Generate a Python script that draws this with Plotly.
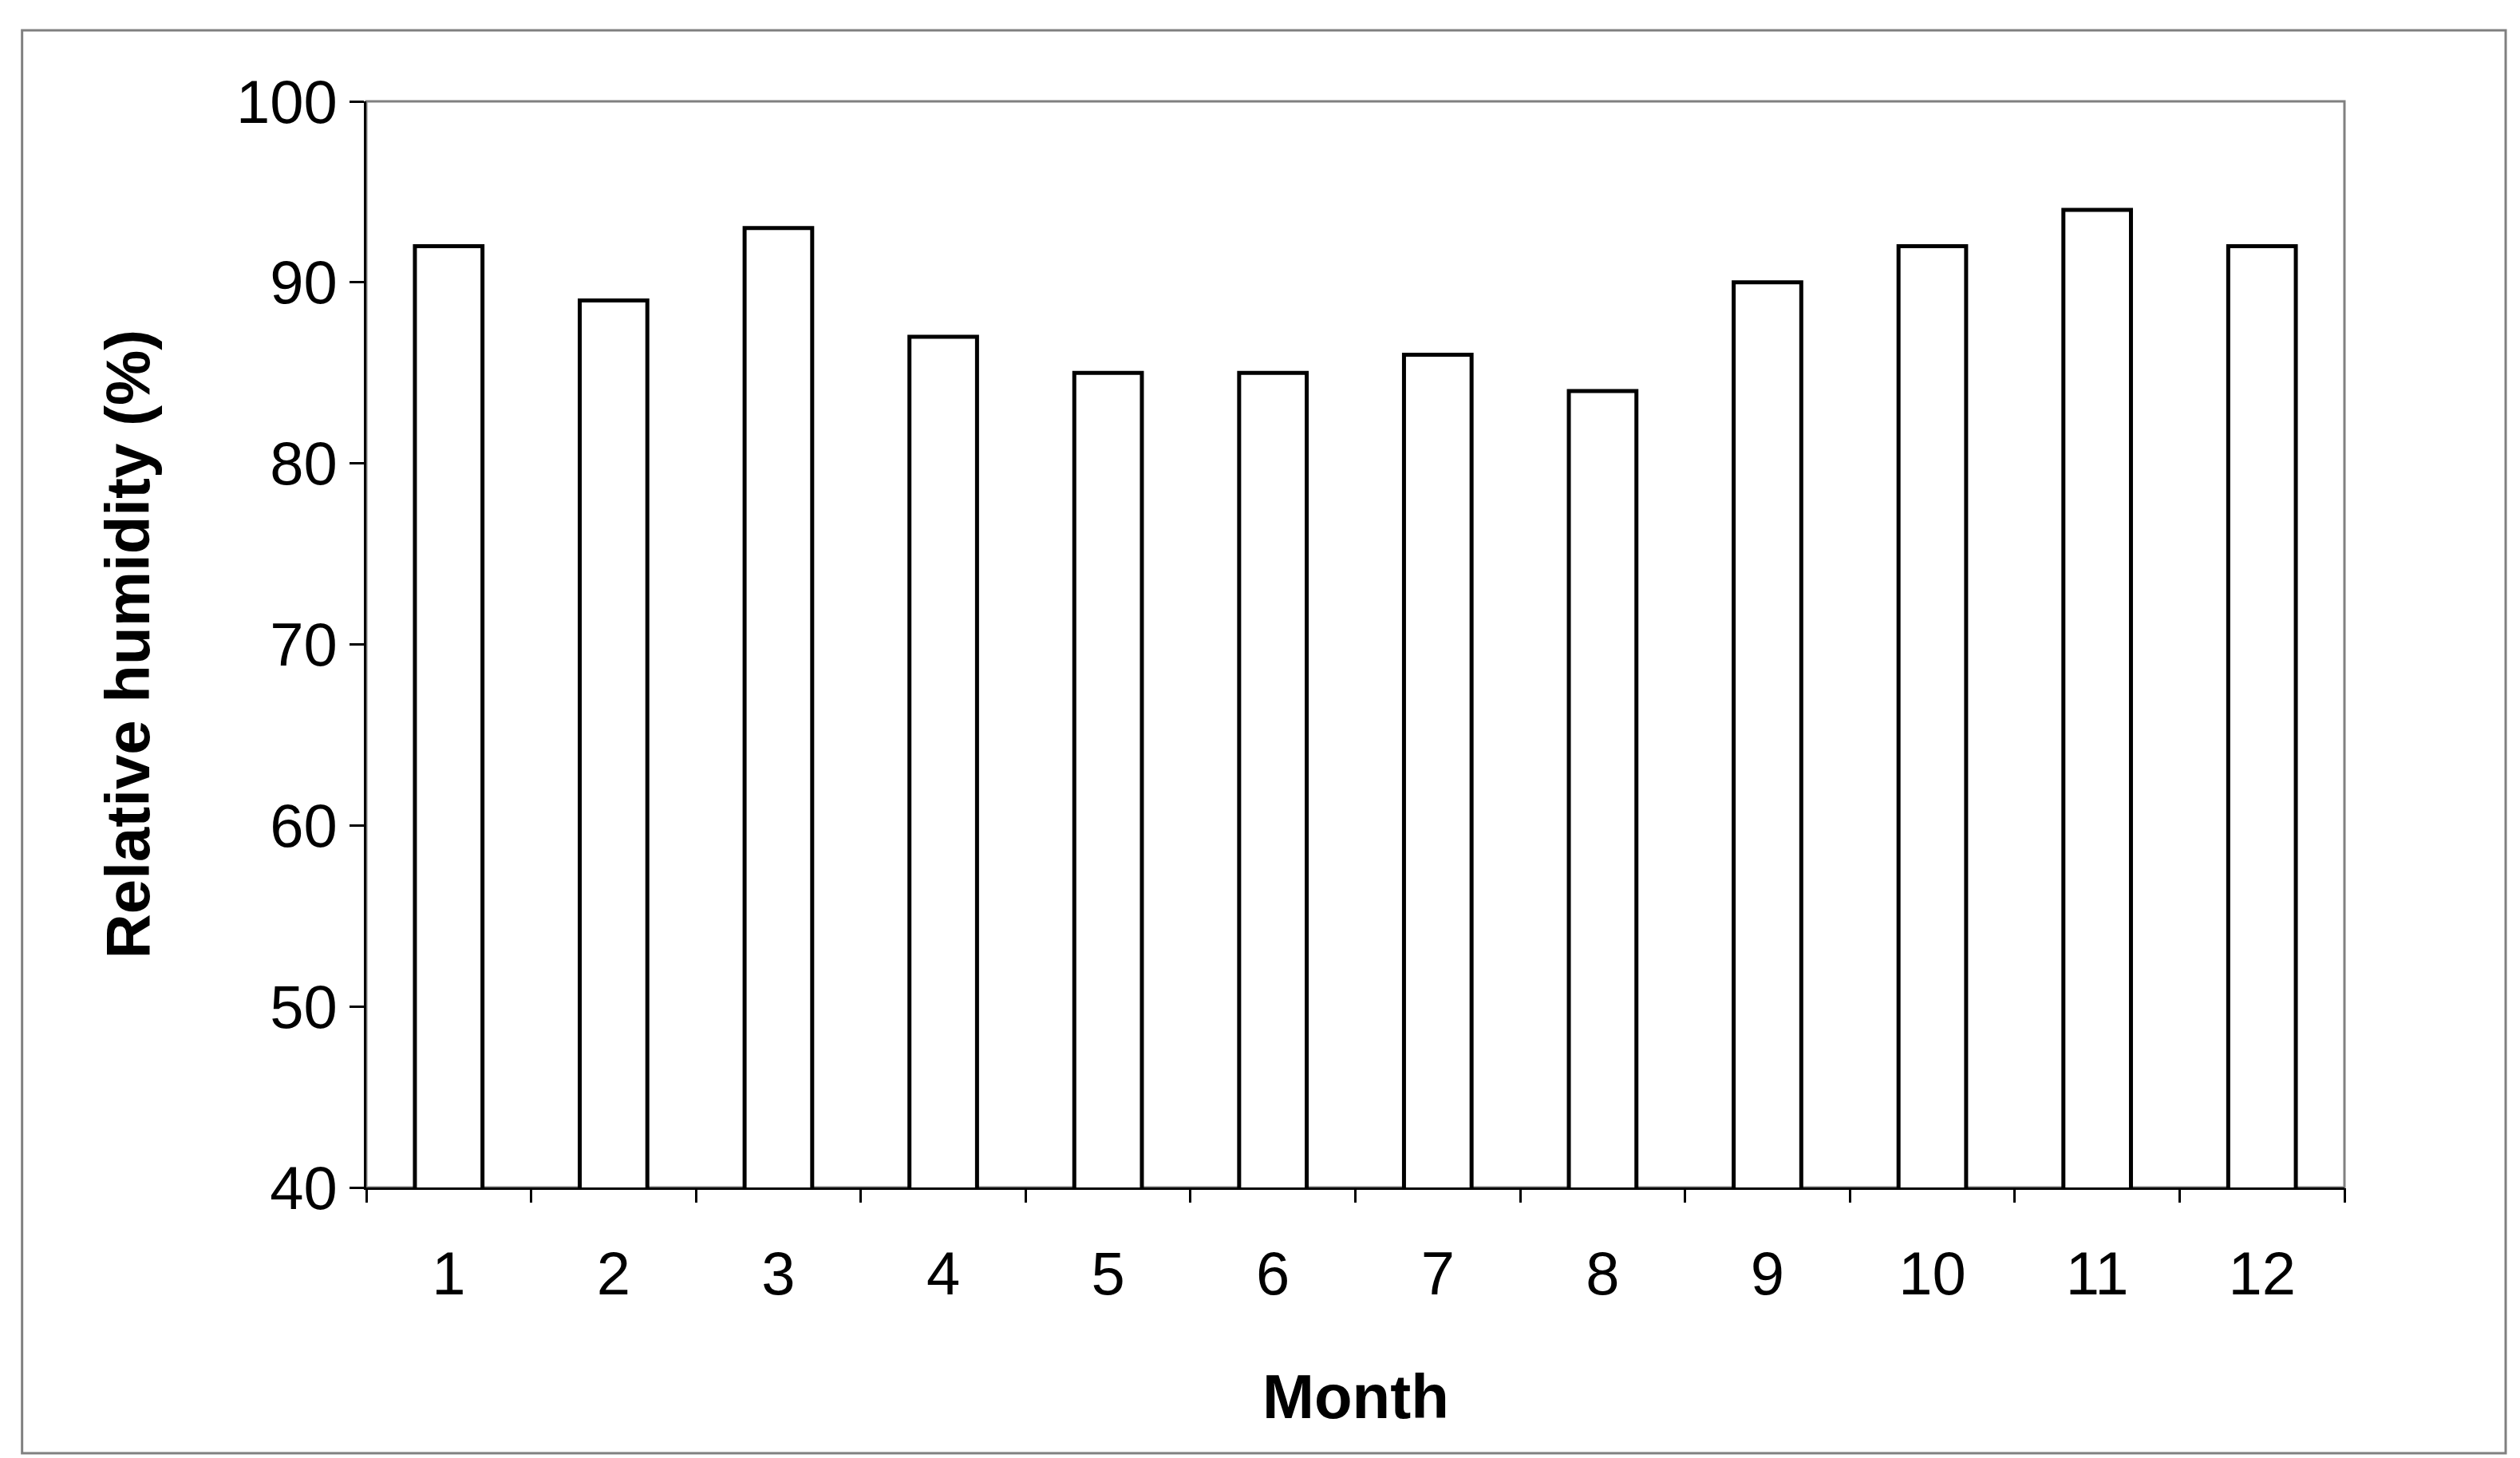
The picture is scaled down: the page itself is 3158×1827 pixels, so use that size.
import plotly.graph_objects as go

months = [1, 2, 3, 4, 5, 6, 7, 8, 9, 10, 11, 12]
humidity = [92, 89, 93, 87, 85, 85, 86, 84, 90, 92, 94, 92]
y_ticks = [40, 50, 60, 70, 80, 90, 100]

fig = go.Figure()
fig.add_trace(go.Bar(x=months, y=humidity, width=0.41, marker=dict(color="white", line=dict(color="black", width=5))))

fig.update_layout(
    width=3158, height=1827, paper_bgcolor="white", plot_bgcolor="white",
    margin=dict(l=451, r=228, t=119, b=347), showlegend=False,
    font=dict(family="Liberation Sans, Arial", color="black"),
    xaxis=dict(range=[0.5, 12.5], tickvals=months, ticktext=[str(m) for m in months], ticks="",
               tickfont=dict(size=76), showgrid=False, showline=True, linecolor="black", linewidth=3,
               ticklabelstandoff=40),
    xaxis2=dict(range=[0.5, 12.5], overlaying="x", tickvals=[i + 0.5 for i in range(13)], ticks="outside",
                ticklen=18, tickwidth=3, tickcolor="black", showticklabels=False, showgrid=False, side="bottom"),
    yaxis=dict(range=[40, 100], tickvals=y_ticks, ticks="outside", ticklen=18, tickwidth=3, tickcolor="black",
               tickfont=dict(size=76), showgrid=False, showline=True, linecolor="black", linewidth=3),
)
fig.add_trace(go.Scatter(x=[None], y=[None], xaxis="x2", showlegend=False))
fig.add_shape(type="rect", xref="paper", yref="paper", x0=0, x1=1, y0=0, y1=1, line=dict(color="#808080", width=3), layer="below")
fig.add_shape(type="rect", xref="paper", yref="paper", x0=-0.174, x1=1.0815, y0=-0.2447, y1=1.0654, line=dict(color="#808080", width=3))
fig.add_annotation(text="<b>Month</b>", xref="paper", yref="paper", x=0.5, y=(1480 - 1742) / 1361, showarrow=False, font=dict(size=78), yanchor="middle")
fig.add_annotation(text="<b>Relative humidity (%)</b>", xref="paper", yref="paper", x=(151 - 451) / 2479, y=0.5, textangle=-90, showarrow=False, font=dict(size=78), xanchor="center")
fig.write_html("out.html")
